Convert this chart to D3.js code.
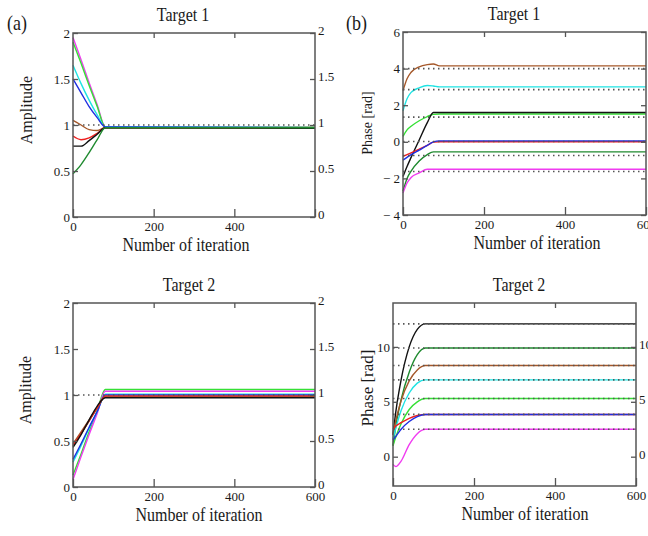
<!DOCTYPE html>
<html>
<head>
<meta charset="utf-8">
<script src="https://cdn.jsdelivr.net/npm/d3@7"></script>
<style>
  body { margin: 0; background: #fff; }
  svg text { font-family: "Liberation Serif", "Times New Roman", serif; fill: #1a1a1a; }
</style>
</head>
<body>
<svg width="648" height="536"></svg>
<script>
// Data -------------------------------------------------------------

var palette = {
  magenta: '#f03cf0', green: '#35e035', cyan: '#1fe3e3', blue: '#1f2fe0',
  brown: '#a5582a', red: '#ee2020', black: '#111111', darkgreen: '#1f8a2f'
};

// (a) Target 1 - amplitude
var ampT1Iter = [0, 20, 40, 60, 80, 600];
var ampT1Keys = ['magenta', 'green', 'cyan', 'blue', 'brown', 'red', 'black', 'darkgreen'];
var ampT1Values = [
  [1.95, 1.71, 1.46, 1.22, 0.98, 0.975],
  [1.90, 1.67, 1.43, 1.20, 0.98, 0.975],
  [1.65, 1.45, 1.27, 1.11, 0.98, 0.97],
  [1.50, 1.35, 1.20, 1.08, 0.98, 0.97],
  [1.05, 1.00, 0.95, 0.94, 0.97, 0.97],
  [0.88, 0.84, 0.86, 0.91, 0.97, 0.965],
  [0.77, 0.77, 0.83, 0.90, 0.97, 0.965],
  [0.47, 0.57, 0.70, 0.84, 0.97, 0.97]
];
var ampT1Refs = [1];

// (a) Target 2 - amplitude
var ampT2Iter = [0, 20, 40, 60, 80, 600];
var ampT2Keys = ['green', 'magenta', 'cyan', 'blue', 'darkgreen', 'brown', 'red', 'black'];
var ampT2Values = [
  [0.13, 0.36, 0.60, 0.83, 1.06, 1.06],
  [0.08, 0.33, 0.57, 0.80, 1.04, 1.04],
  [0.27, 0.45, 0.64, 0.82, 1.01, 1.01],
  [0.30, 0.47, 0.65, 0.82, 1.00, 1.00],
  [0.45, 0.58, 0.72, 0.86, 0.98, 0.98],
  [0.47, 0.60, 0.73, 0.86, 0.98, 0.98],
  [0.45, 0.58, 0.72, 0.86, 0.99, 0.99],
  [0.43, 0.57, 0.73, 0.88, 0.97, 0.97]
];
var ampT2Refs = [1];

// (b) Target 1 - phase
var phT1Iter = [0, 10, 20, 40, 60, 75, 90, 600];
var phT1Keys = ['brown', 'cyan', 'green', 'black', 'red', 'blue', 'darkgreen', 'magenta'];
var phT1Values = [
  [2.8, 3.45, 3.8, 4.1, 4.22, 4.25, 4.15, 4.15],
  [1.7, 2.35, 2.7, 2.95, 3.08, 3.05, 3.0, 3.0],
  [0.3, 0.65, 0.85, 1.15, 1.38, 1.5, 1.52, 1.52],
  [-1.9, -1.35, -0.85, 0.1, 1.05, 1.6, 1.6, 1.6],
  [-0.8, -0.7, -0.6, -0.4, -0.2, -0.02, 0.0, 0.0],
  [-1.0, -0.85, -0.7, -0.45, -0.2, 0.0, 0.05, 0.05],
  [-2.7, -2.0, -1.6, -1.05, -0.7, -0.55, -0.55, -0.55],
  [-2.8, -2.25, -1.95, -1.7, -1.5, -1.5, -1.5, -1.5]
];
var phT1Refs = [4.0, 2.85, 1.35, 0.02, -0.75, -1.62];

// (b) Target 2 - phase
var phT2Iter = [0, 7, 20, 40, 60, 80, 600];
var phT2Keys = ['black', 'darkgreen', 'brown', 'cyan', 'green', 'red', 'blue', 'magenta'];
var phT2Values = [
  [2.0, 4.1, 7.0, 10.0, 11.6, 12.1, 12.1],
  [1.0, 2.8, 5.2, 7.7, 9.3, 9.9, 9.9],
  [2.0, 3.3, 5.1, 6.9, 7.9, 8.3, 8.3],
  [1.6, 2.6, 4.2, 5.8, 6.7, 7.0, 7.0],
  [1.0, 1.8, 3.0, 4.3, 5.0, 5.3, 5.3],
  [2.5, 2.8, 3.1, 3.5, 3.75, 3.85, 3.85],
  [1.5, 1.85, 2.5, 3.2, 3.65, 3.85, 3.85],
  [-0.7, -0.9, -0.4, 1.1, 2.1, 2.5, 2.5]
];
var phT2Refs = [12.1, 9.9, 8.3, 7.0, 5.3, 3.85, 2.5];

var iterTicks = [0, 200, 400, 600];

// Drawing -----------------------------------------------------------

var svg = d3.select('svg');
var serif = '"Liberation Serif", "Times New Roman", serif';

var fmt = function (d) { return d < 0 ? '\u2212 ' + Math.abs(d) : String(d); };

function drawPanel(p) {
  var x = d3.scaleLinear().domain([0, 600]).range([p.left, p.right]);
  var y = d3.scaleLinear().domain(p.yDomain).range([p.bottom, p.top]);
  var g = svg.append('g');

  var line = d3.line()
    .x(d => x(d[0]))
    .y(d => y(d[1]))
    .curve(d3.curveMonotoneX);

  p.values.forEach(function (vals, i) {
    g.append('path')
      .datum(p.iter.map((it, j) => [it, vals[j]]))
      .attr('fill', 'none')
      .attr('stroke', palette[p.keys[i]])
      .attr('stroke-width', 1.4)
      .attr('d', line);
  });

  // dotted target levels
  g.selectAll('.ref')
    .data(p.refs)
    .enter()
    .append('line')
      .attr('x1', p.left)
      .attr('x2', p.right)
      .attr('y1', d => y(d))
      .attr('y2', d => y(d))
      .attr('stroke', '#555')
      .attr('stroke-width', 1.6)
      .attr('stroke-dasharray', '1.5,3.5');

  // inward ticks on all four sides
  var axes = [
    [d3.axisLeft(y).tickValues(p.yTicks).tickFormat(fmt), 'translate(' + p.left + ',0)'],
    [d3.axisRight(y).tickValues(p.yTicks).tickFormat(p.rightLabels ? fmt : ''), 'translate(' + p.right + ',0)'],
    [d3.axisBottom(x).tickValues(iterTicks).tickFormat(d => p.xLabels.indexOf(d) >= 0 ? d : ''), 'translate(0,' + p.bottom + ')'],
    [d3.axisTop(x).tickValues([200, 400]).tickFormat(''), 'translate(0,' + p.top + ')']
  ];
  axes.forEach(function (a, k) {
    var ax = g.append('g')
      .attr('transform', a[1])
      .call(a[0].tickSize(k == 2 ? -8 : -5).tickPadding(k == 2 ? 5 : 3))
      .attr('font-family', serif)
      .attr('font-size', 13);
    ax.select('.domain').remove();
    ax.selectAll('line').attr('stroke', '#555').attr('stroke-width', 1.3);
    ax.selectAll('text')
      .attr('fill', '#333')
      .style('font-family', serif)
      .style('font-size', '13px');
    if (k == 1) ax.selectAll('text').attr('dy', '0.15em'); // right labels sit a bit high
  });

  g.append('rect')
    .attr('x', p.left)
    .attr('y', p.top)
    .attr('width', p.right - p.left)
    .attr('height', p.bottom - p.top)
    .attr('fill', 'none')
    .attr('stroke', '#555')
    .attr('stroke-width', 1.5);

  // title, axis labels
  svg.append('text')
    .attr('transform', 'translate(' + p.titleX + ',' + (p.top - 12) + ') scale(1,1.2)')
    .style('text-anchor', 'middle')
    .style('font-size', '16px')
    .text(p.title);

  svg.append('text')
    .attr('transform', 'translate(' + p.xLabelX + ',' + (p.bottom + 34) + ') scale(1,1.2)')
    .style('text-anchor', 'middle')
    .style('font-size', '16px')
    .text('Number of iteration');

  svg.append('text')
    .attr('transform', 'translate(' + p.yLabelX + ',' + p.yLabelY + ') rotate(-90)')
    .style('text-anchor', 'middle')
    .style('font-size', p.yLabelSize)
    .text(p.yLabel);
}

drawPanel({
  left: 73, right: 315, top: 33, bottom: 217, yDomain: [0, 2], yTicks: [0, 0.5, 1, 1.5, 2],
  iter: ampT1Iter, values: ampT1Values, keys: ampT1Keys, refs: ampT1Refs,
  rightLabels: true, xLabels: [0, 200, 400],
  title: 'Target 1', titleX: 183, xLabelX: 186,
  yLabel: 'Amplitude', yLabelX: 32, yLabelY: 110, yLabelSize: '16px'
});

drawPanel({
  left: 73, right: 315, top: 303, bottom: 487, yDomain: [0, 2], yTicks: [0, 0.5, 1, 1.5, 2],
  iter: ampT2Iter, values: ampT2Values, keys: ampT2Keys, refs: ampT2Refs,
  rightLabels: true, xLabels: [0, 200, 400, 600],
  title: 'Target 2', titleX: 189, xLabelX: 199,
  yLabel: 'Amplitude', yLabelX: 31, yLabelY: 390, yLabelSize: '16px'
});

drawPanel({
  left: 403, right: 646, top: 32, bottom: 215, yDomain: [-4, 6], yTicks: [-4, -2, 0, 2, 4, 6],
  iter: phT1Iter, values: phT1Values, keys: phT1Keys, refs: phT1Refs,
  rightLabels: false, xLabels: [0, 200, 400, 600],
  title: 'Target 1', titleX: 514, xLabelX: 537,
  yLabel: 'Phase [rad]', yLabelX: 372, yLabelY: 123, yLabelSize: '14px'
});

drawPanel({
  left: 393, right: 636, top: 303, bottom: 486, yDomain: [-2.67, 14], yTicks: [0, 5, 10],
  iter: phT2Iter, values: phT2Values, keys: phT2Keys, refs: phT2Refs,
  rightLabels: true, xLabels: [0, 200, 400, 600],
  title: 'Target 2', titleX: 519, xLabelX: 525,
  yLabel: 'Phase [rad]', yLabelX: 373, yLabelY: 388, yLabelSize: '17px'
});

// panel letters
svg.append('text')
  .attr('transform', 'translate(7,30) scale(1,1.15)')
  .style('font-size', '18px')
  .text('(a)');

svg.append('text')
  .attr('transform', 'translate(346,30) scale(1,1.15)')
  .style('font-size', '18px')
  .text('(b)');
</script>
</body>
</html>
